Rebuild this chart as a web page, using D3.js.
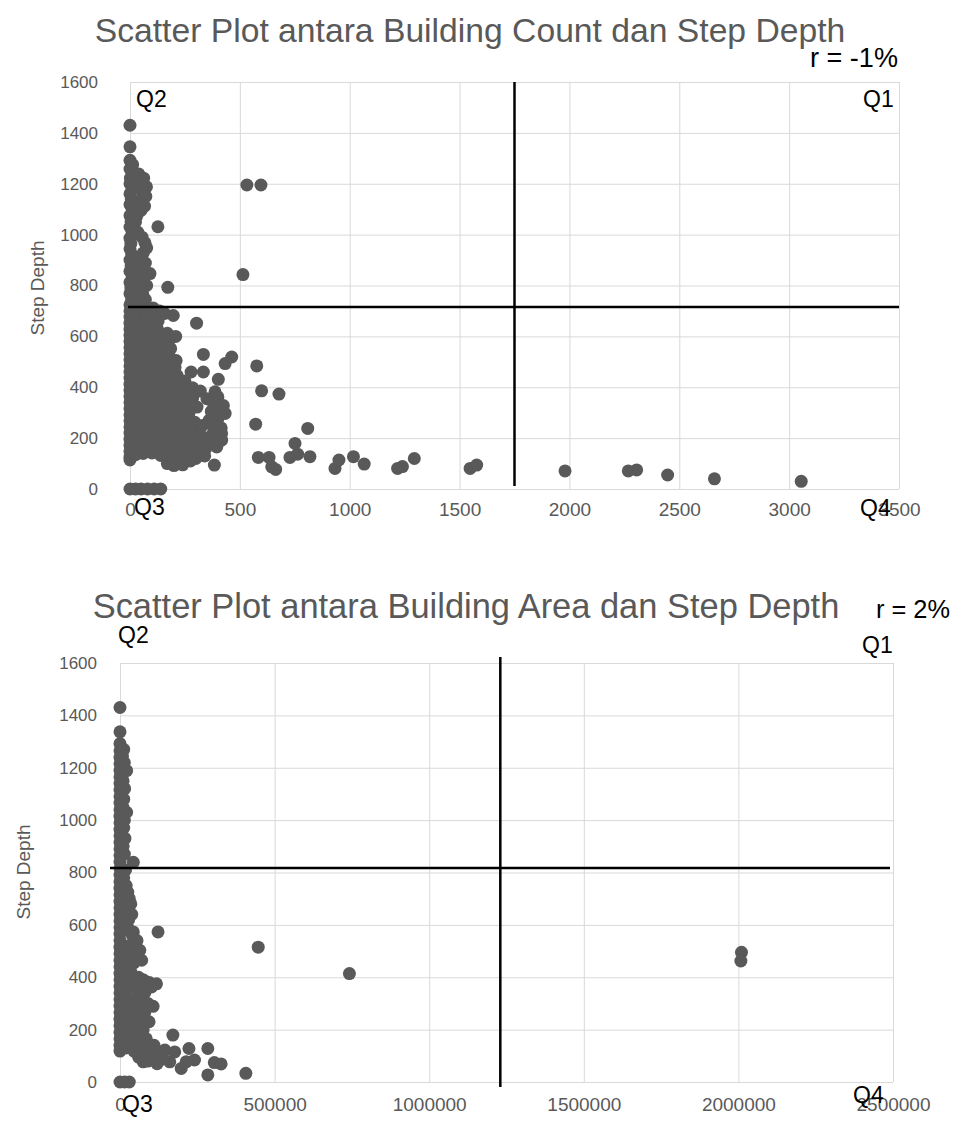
<!DOCTYPE html>
<html>
<head>
<meta charset="utf-8">
<script src="https://cdn.jsdelivr.net/npm/d3@7"></script>
<style>
  body { margin: 0; background: #fff; }
  svg { display: block; }
</style>
</head>
<body>
<div id="chart"></div>
<script>
// ---- data ----
var depthTicks = [0, 200, 400, 600, 800, 1000, 1200, 1400, 1600];
var countTicks = [0, 500, 1000, 1500, 2000, 2500, 3000, 3500];
var areaTicks = [0, 500000, 1000000, 1500000, 2000000, 2500000];

// quadrant cut lines (value coordinates)
var countCut = [1750, 715];
var areaCut = [1230000, 817];

// [building count, step depth]
var countPoints = [
  [0,1430],[0,1345],[532,1195],[596,1195],[514,843],[127,1031],[91,847],[172,793],[76,800],
  [0,1292],[12,1275],[0,1258],[18,1240],[2,1222],[0,1200],[10,1180],[0,1160],[6,1140],[0,1118],
  [12,1096],[0,1075],[5,1052],[0,1030],[10,1008],[0,986],[4,965],[0,944],[8,922],[0,900],[5,878],
  [0,856],[10,834],[0,812],[4,790],[0,768],[8,746],[0,724],[0,700],[0,676],[0,652],[0,628],[0,604],
  [0,580],[0,556],[0,532],[0,508],[0,484],[0,460],[0,436],[0,412],[0,388],[0,364],[0,340],[0,316],
  [0,292],[0,268],[0,244],[0,220],[0,196],[0,172],[0,148],[0,125],[0,114],
  [40,1238],[62,1222],[48,1205],[75,1188],[55,1170],[72,1150],[42,1132],[66,1112],[50,1095],
  [30,1072],[25,1050],[35,1010],[55,990],[68,968],[76,948],[60,928],[45,908],[70,888],[55,868],
  [40,850],[62,825],[48,808],[35,786],[58,765],[70,745],[45,728],
  [35,702],[70,708],[105,712],[135,700],[158,690],[197,682],
  [30,670],[65,662],[100,675],[128,660],
  [35,642],[62,635],[95,648],[125,630],
  [35,612],[70,604],[105,618],[140,602],[170,612],[208,600],
  [30,582],[65,575],[100,588],[140,570],[175,580],
  [30,550],[70,545],[110,556],[150,540],[185,552],
  [30,522],[65,515],[100,528],[140,510],[180,520],[210,505],
  [30,492],[65,485],[100,496],[140,480],[175,490],[205,478],
  [30,462],[65,455],[100,466],[140,450],[178,460],[215,446],
  [30,432],[65,425],[100,436],[140,420],[175,430],[212,415],[250,425],
  [35,400],[70,405],[105,398],[140,402],[175,395],[210,400],[245,392],[285,398],[320,385],
  [35,370],[70,365],[105,372],[140,368],[175,360],[210,370],[245,365],[285,358],[350,355],[400,362],
  [35,340],[70,335],[110,345],[150,340],[190,330],[240,340],[280,335],[305,322],[380,335],[425,328],
  [35,310],[70,305],[105,312],[145,300],[180,310],[230,305],[268,298],[370,305],[415,300],
  [35,280],[70,275],[105,282],[140,270],[170,285],[215,275],[255,268],[295,262],[360,270],[400,275],
  [35,250],[70,245],[105,252],[140,245],[175,255],[210,240],[250,248],[290,240],[330,250],[380,245],[415,240],
  [35,220],[70,215],[105,222],[140,215],[175,225],[210,210],[250,220],[290,215],[330,205],[375,215],[417,218],
  [35,190],[70,185],[105,192],[140,185],[190,190],[225,180],[260,190],[300,185],[340,178],[375,190],[417,192],
  [35,160],[70,155],[110,165],[150,160],[190,155],[225,150],[265,160],[300,150],[345,160],[395,165],
  [25,135],[60,140],[100,142],[140,132],[180,120],[220,118],[260,125],[300,120],[340,130],
  [170,100],[200,92],[240,95],[275,110],[384,94],
  [303,652],[334,529],[463,519],[433,493],[278,460],[334,460],[402,431],[577,484],[599,386],[678,373],
  [387,382],[433,297],[572,255],[809,238],[751,179],[584,124],[633,124],[645,87],[663,77],
  [728,124],[763,137],[819,127],[933,81],[951,114],[1017,127],[1066,98],[1218,81],[1240,88],[1294,120],
  [1548,81],[1578,94],[1980,71],[2268,71],[2306,75],[2447,55],[2660,40],[3055,30],
  [0,0],[25,0],[50,0],[80,0],[110,0],[140,0]
];

// [building area, step depth]
var areaPoints = [
  [0,1430],[0,1337],[21500,1189],[21500,1030],[43000,839],[447000,515],[742000,414],[2010000,495],[2008000,462],
  [123000,573],[43000,573],[64000,503],[70000,465],[84000,382],[102000,363],[107000,289],[94000,230],
  [171000,179],[123000,115],[145000,122],[177000,115],[223000,128],[284000,128],[161000,77],[198000,52],
  [214000,77],[241000,84],[305000,74],[327000,69],[284000,27],[407000,33],[107000,84],[75000,77],
  [0,1292],[0,1265],[0,1240],[0,1215],[0,1190],[0,1165],[0,1140],[0,1115],[0,1090],[0,1065],[0,1040],
  [0,1015],[0,990],[0,965],[0,940],[0,915],[0,890],[0,865],[0,840],[0,815],[0,790],[0,765],[0,740],
  [0,715],[0,690],[0,665],[0,640],[0,615],[0,590],[0,565],[0,540],[0,515],[0,490],[0,465],[0,440],
  [0,415],[0,390],[0,365],[0,340],[0,315],[0,290],[0,265],[0,240],[0,215],[0,190],[0,165],[0,140],[0,118],
  [12000,1270],[8000,1245],[14000,1220],[10000,1150],[15000,1120],[12000,1080],[9000,1050],[14000,1000],
  [12000,970],[16000,930],[10000,900],[14000,870],[18000,810],[12000,780],[20000,750],[25000,725],
  [30000,700],[35000,680],[20000,660],[38000,640],[28000,620],[15000,600],
  [25000,590],[40000,560],[55000,540],[30000,520],[50000,500],[25000,480],[45000,455],[20000,440],
  [35000,420],[60000,400],[25000,395],[50000,380],[75000,390],[95000,380],[118000,375],[30000,360],
  [60000,350],[80000,340],[20000,330],[45000,315],[70000,305],[90000,300],[25000,290],[55000,275],
  [80000,265],[30000,250],[60000,240],[20000,225],[45000,210],[75000,200],[30000,190],[55000,175],
  [85000,165],[25000,160],[50000,145],[80000,135],[110000,140],[20000,130],[45000,118],[70000,110],
  [100000,105],[130000,100],[60000,95],[90000,80],[140000,88],[120000,70],
  [0,0],[15000,0],[30000,0]
];

// ---- drawing ----
var W = 955, H = 1126;
var grey = "#595959";

var svg = d3.select("#chart").append("svg")
  .attr("width", W).attr("height", H)
  .style("font-family", "'Liberation Sans', Arial, sans-serif");

// shrink/grow font so the text spans the wanted width
function fitText(t, w) {
  var fs = parseFloat(t.attr("font-size"));
  var len = t.node().getComputedTextLength();
  t.attr("font-size", (fs * w / len).toFixed(2));
}

function drawPanel(o) {
  var x = d3.scaleLinear().domain([0, o.xTicks[o.xTicks.length - 1]]).range([o.left, o.right]);
  var y = d3.scaleLinear().domain([0, 1600]).range([o.bottom, o.top]);
  var g = svg.append("g");

  // vertical gridlines + x labels
  var gx = g.append("g")
    .attr("transform", "translate(0," + o.bottom + ")")
    .call(d3.axisBottom(x).tickValues(o.xTicks).tickSize(-(o.bottom - o.top))
      .tickPadding(o.xLabelPad).tickFormat(d3.format("d")));
  gx.select(".domain").remove();
  gx.selectAll("line").attr("stroke", "#d9d9d9");
  gx.selectAll("text").attr("fill", grey).attr("font-size", 19).attr("font-family", null);

  // horizontal gridlines + y labels
  var gy = g.append("g")
    .attr("transform", "translate(" + o.left + ",0)")
    .call(d3.axisLeft(y).tickValues(depthTicks).tickSize(-(o.right - o.left))
      .tickPadding(o.yLabelPad).tickFormat(d3.format("d")));
  gy.select(".domain").remove();
  gy.selectAll("line").attr("stroke", "#d9d9d9");
  gy.selectAll("text").attr("fill", grey).attr("font-size", 17).attr("font-family", null);

  // dots
  g.append("g").selectAll("circle")
    .data(o.points)
    .enter()
    .append("circle")
    .attr("cx", function (d) { return x(d[0]); })
    .attr("cy", function (d) { return y(d[1]); })
    .attr("r", 6.5)
    .attr("fill", grey);

  // quadrant lines
  g.append("line")
    .attr("x1", x(o.cut[0])).attr("x2", x(o.cut[0]))
    .attr("y1", o.vLine[0]).attr("y2", o.vLine[1])
    .attr("stroke", "#000").attr("stroke-width", 2.5);
  g.append("line")
    .attr("x1", o.hLine[0]).attr("x2", o.hLine[1])
    .attr("y1", y(o.cut[1])).attr("y2", y(o.cut[1]))
    .attr("stroke", "#000").attr("stroke-width", 2.5);

  // title
  var title = g.append("text")
    .attr("x", o.title.x).attr("y", o.title.y)
    .attr("text-anchor", "middle")
    .attr("font-size", 30)
    .attr("fill", grey)
    .text(o.title.text);
  fitText(title, o.title.w);

  // r value
  var r = g.append("text")
    .attr("x", o.r.x).attr("y", o.r.y)
    .attr("font-size", 22)
    .attr("fill", "#000")
    .text(o.r.text);
  fitText(r, o.r.w);

  // quadrant labels
  o.quads.forEach(function (q) {
    g.append("text")
      .attr("x", q[1]).attr("y", q[2])
      .attr("font-size", 23)
      .attr("fill", "#000")
      .text(q[0]);
  });

  // y axis title
  g.append("text")
    .attr("transform", "translate(" + o.yTitle[0] + "," + o.yTitle[1] + ") rotate(-90)")
    .attr("text-anchor", "middle")
    .attr("font-size", 19)
    .attr("fill", grey)
    .text("Step Depth");
}

drawPanel({
  points: countPoints, xTicks: countTicks, cut: countCut,
  left: 130, right: 899, top: 82, bottom: 489,
  xLabelPad: 14, yLabelPad: 32,
  vLine: [82, 486], hLine: [128, 899],
  title: { text: "Scatter Plot antara Building Count dan Step Depth", x: 470, y: 42, w: 751 },
  r: { text: "r = -1%", x: 810, y: 67, w: 88 },
  quads: [["Q2", 136, 107], ["Q1", 863, 107], ["Q3", 134, 515], ["Q4", 860, 516]],
  yTitle: [44, 288]
});

drawPanel({
  points: areaPoints, xTicks: areaTicks, cut: areaCut,
  left: 120, right: 893, top: 663, bottom: 1082,
  xLabelPad: 16, yLabelPad: 23,
  vLine: [657, 1087], hLine: [110, 890],
  title: { text: "Scatter Plot antara Building Area dan Step Depth", x: 466, y: 618, w: 747 },
  r: { text: "r = 2%", x: 876, y: 618, w: 74 },
  quads: [["Q2", 118, 643], ["Q1", 862, 653], ["Q3", 122, 1112], ["Q4", 853, 1103]],
  yTitle: [30, 872]
});
</script>
</body>
</html>
